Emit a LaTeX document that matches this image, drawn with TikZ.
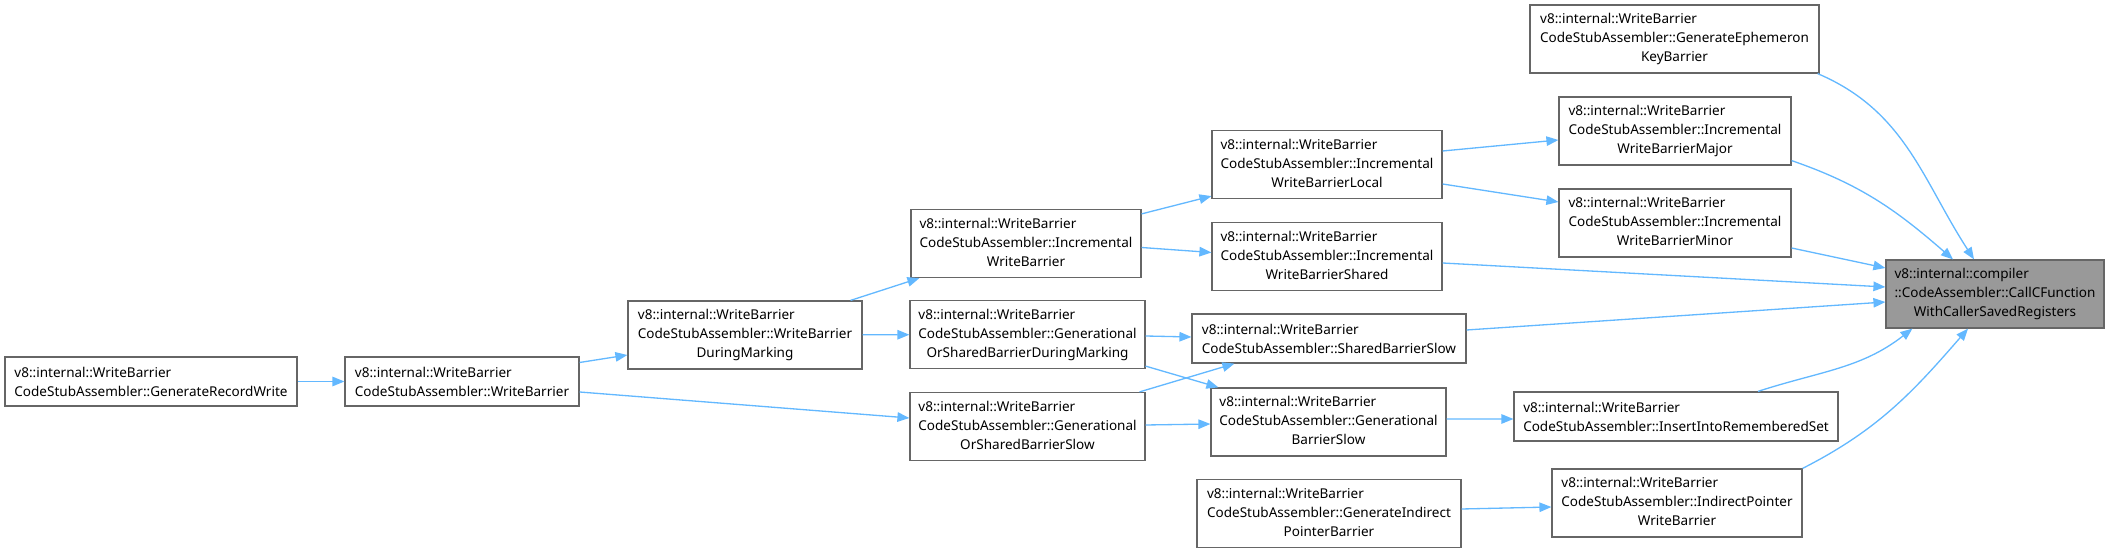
\documentclass[tikz,border=0pt]{standalone}
\usepackage{fontspec}
\setmainfont{Noto Sans}
\usetikzlibrary{arrows.meta, positioning, calc}
\definecolor{edgeblue}{RGB}{99, 184, 255}
\definecolor{boxgray}{RGB}{102, 102, 102}
\definecolor{rootfill}{RGB}{153, 153, 153}
\newcommand{\fnlines}[3]{\begin{tabular}{@{}l@{}}#1\\#2\\\multicolumn{1}{@{}c@{}}{#3}\end{tabular}}

\begin{document}
\begin{tikzpicture}[
    x=0.02cm, y=-0.02cm,
    every node/.style={font=\fontsize{7.7pt}{10.8pt}\selectfont, align=left},
    fnbox/.style={draw=boxgray, fill=white, line width=0.7pt, inner sep=0pt, minimum height=1.36cm},
    fnboxlow/.style={fnbox, minimum height=0.98cm},
    rootbox/.style={fnbox, fill=rootfill},
    arr/.style={-{Triangle[length=0.24cm, width=0.19cm]}, line width=0.75pt, color=edgeblue}
]
\useasboundingbox (0,0) rectangle (2107,553);

% Callee
\node[rootbox, minimum width=4.36cm] (callc) at (1995,294) {\fnlines{v8::internal::compiler}{::CodeAssembler::CallCFunction}{WithCallerSavedRegisters}};

% Direct callers
\node[fnbox, minimum width=5.78cm] (ephemeron) at (1674.5,39) {\fnlines{v8::internal::WriteBarrier}{CodeStubAssembler::GenerateEphemeron}{KeyBarrier}};
\node[fnbox, minimum width=4.64cm] (incmajor) at (1675,131) {\fnlines{v8::internal::WriteBarrier}{CodeStubAssembler::Incremental}{WriteBarrierMajor}};
\node[fnbox, minimum width=4.64cm] (incminor) at (1675,223) {\fnlines{v8::internal::WriteBarrier}{CodeStubAssembler::Incremental}{WriteBarrierMinor}};
\node[fnbox, minimum width=4.6cm] (incshared) at (1327,256.5) {\fnlines{v8::internal::WriteBarrier}{CodeStubAssembler::Incremental}{WriteBarrierShared}};
\node[fnboxlow, minimum width=5.48cm] (sharedslow) at (1329,338.5) {v8::internal::WriteBarrier\\CodeStubAssembler::SharedBarrierSlow};
\node[fnboxlow, minimum width=6.48cm] (remembered) at (1676,416.5) {v8::internal::WriteBarrier\\CodeStubAssembler::InsertIntoRememberedSet};
\node[fnbox, minimum width=5cm] (indirect) at (1677,503) {\fnlines{v8::internal::WriteBarrier}{CodeStubAssembler::IndirectPointer}{WriteBarrier}};

% Further callers
\node[fnbox, minimum width=4.6cm] (inclocal) at (1327,164.5) {\fnlines{v8::internal::WriteBarrier}{CodeStubAssembler::Incremental}{WriteBarrierLocal}};
\node[fnbox, minimum width=4.6cm] (incwb) at (1026,243.5) {\fnlines{v8::internal::WriteBarrier}{CodeStubAssembler::Incremental}{WriteBarrier}};
\node[fnbox, minimum width=4.7cm] (genslow) at (1328.5,422) {\fnlines{v8::internal::WriteBarrier}{CodeStubAssembler::Generational}{BarrierSlow}};
\node[fnbox, minimum width=5.28cm] (genindirect) at (1329,513.5) {\fnlines{v8::internal::WriteBarrier}{CodeStubAssembler::GenerateIndirect}{PointerBarrier}};
\node[fnbox, minimum width=4.7cm] (gsmarking) at (1027.5,334.5) {\fnlines{v8::internal::WriteBarrier}{CodeStubAssembler::Generational}{OrSharedBarrierDuringMarking}};
\node[fnbox, minimum width=4.7cm] (gsslow) at (1027.5,426.5) {\fnlines{v8::internal::WriteBarrier}{CodeStubAssembler::Generational}{OrSharedBarrierSlow}};
\node[fnbox, minimum width=4.68cm] (wbmarking) at (745,335) {\fnlines{v8::internal::WriteBarrier}{CodeStubAssembler::WriteBarrier}{DuringMarking}};
\node[fnboxlow, minimum width=4.68cm] (writebarrier) at (462,381.5) {v8::internal::WriteBarrier\\CodeStubAssembler::WriteBarrier};
\node[fnboxlow, minimum width=5.84cm] (recordwrite) at (151,381.5) {v8::internal::WriteBarrier\\CodeStubAssembler::GenerateRecordWrite};

% Call edges
\draw[arr] (recordwrite) -- (writebarrier);
\draw[arr] ($(writebarrier.east)+(0,-19)$) -- ($(wbmarking.west)+(0,20)$);
\draw[arr] ($(writebarrier.east)+(0,10.5)$) -- ($(gsslow.west)+(0,-8.5)$);
\draw[arr] (wbmarking) -- (gsmarking);
\draw[arr] ($(wbmarking.north east)+(-12,0)$) -- ($(incwb.south west)+(9,0)$);
\draw[arr] ($(incwb.north east)+(0,5)$) -- ($(inclocal.south west)+(0,-3)$);
\draw[arr] ($(incwb.east)+(0,4)$) -- ($(incshared.west)+(0,-4)$);
\draw[arr] ($(inclocal.east)+(0,-13.5)$) -- ($(incmajor.west)+(0,9)$);
\draw[arr] ($(inclocal.east)+(0,19.5)$) -- ($(incminor.west)+(0,-21)$);
\draw[arr] ($(gsmarking.east)+(0,1.5)$) -- ($(sharedslow.west)+(0,-1.5)$);
\draw[arr] ($(gsmarking.south east)+(0,-3)$) -- ($(genslow.north west)+(8,0)$);
\draw[arr] ($(gsslow.north east)+(-6,0)$) -- ($(sharedslow.south west)+(43,0)$);
\draw[arr] ($(gsslow.east)+(0,-1.5)$) -- ($(genslow.west)+(0,2)$);
\draw[arr] ($(genslow.east)+(0,-3)$) -- ($(remembered.west)+(0,2.5)$);
\draw[arr] ($(genindirect.east)+(0,-4.5)$) -- ($(indirect.west)+(0,4)$);

% Edges into the callee
\draw[arr] ($(ephemeron.south east)+(-2,0)$) to[out=-23,in=123] ($(callc.north)+(-21,0)$);
\draw[arr] ($(incmajor.south east)+(0,-5)$) to[out=-19,in=139] ($(callc.north)+(-42,0)$);
\draw[arr] ($(incminor.east)+(0,25)$) -- ($(callc.west)+(0,-26)$);
\draw[arr] ($(incshared.east)+(0,6.5)$) -- ($(callc.west)+(0,-7)$);
\draw[arr] ($(sharedslow.east)+(0,-8.5)$) -- ($(callc.west)+(0,8)$);
\draw[arr] ($(remembered.north)+(82,0)$) to[out=18,in=-142] ($(callc.south west)+(27,0)$);
\draw[arr] (indirect.north east) to[out=27,in=-131] ($(callc.south)+(-27,0)$);

\end{tikzpicture}
\end{document}
